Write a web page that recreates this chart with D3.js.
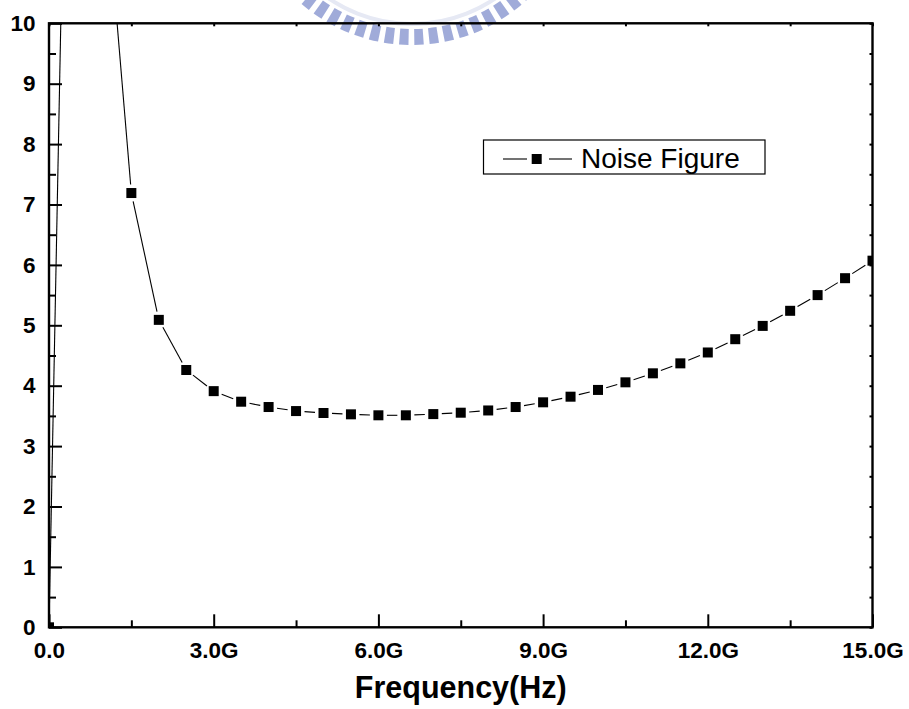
<!DOCTYPE html>
<html>
<head>
<meta charset="utf-8">
<script src="https://cdn.jsdelivr.net/npm/d3@7"></script>
<style>
  html, body { margin: 0; padding: 0; background: #fff; }
  svg { display: block; }
  text { font-family: "Liberation Sans", Arial, Helvetica, sans-serif; }
</style>
</head>
<body>
<svg id="chart" width="909" height="709"></svg>
<script>
// Frequency points (GHz) and measured noise figure (dB)
const freqGHz = [0, 0.5, 1.0, 1.5, 2.0, 2.5, 3.0, 3.5, 4.0, 4.5, 5.0, 5.5, 6.0, 6.5, 7.0, 7.5,
                 8.0, 8.5, 9.0, 9.5, 10.0, 10.5, 11.0, 11.5, 12.0, 12.5, 13.0, 13.5, 14.0, 14.5, 15.0];
const noiseFigure = [0.0, 23.3, 12.6, 7.19, 5.09, 4.26, 3.91, 3.735, 3.647, 3.58, 3.548, 3.526, 3.51, 3.51,
                     3.53, 3.553, 3.59, 3.647, 3.725, 3.818, 3.93, 4.056, 4.205, 4.37, 4.55, 4.77, 4.99,
                     5.24, 5.50, 5.78, 6.07];

const xMajorTicks = [0, 3, 6, 9, 12, 15];
const xTickLabels = ["0.0", "3.0G", "6.0G", "9.0G", "12.0G", "15.0G"];
const xMinorTicks = [1.5, 4.5, 7.5, 10.5, 13.5];
const yMajorTicks = [0, 1, 2, 3, 4, 5, 6, 7, 8, 9, 10];
const yMinorTicks = [0.5, 1.5, 2.5, 3.5, 4.5, 5.5, 6.5, 7.5, 8.5, 9.5];
const seriesName = "Noise Figure";
const xTitle = "Frequency(Hz)";

const svg = d3.select("#chart");
const plotL = 49, plotR = 872.5, plotT = 23.3, plotB = 627.3;

const x = d3.scaleLinear().domain([0, 15]).range([plotL, plotR]);
const y = d3.scaleLinear().domain([0, 10]).range([plotB, plotT]);

// faint seal emblem behind the top of the plot
const emblem = svg.append("g").attr("transform", "translate(412,-124)");
emblem.append("circle").attr("r", 148).attr("fill", "none")
  .attr("stroke", "#e6e9f4").attr("stroke-width", 4);
const toothAngles = d3.range(-44, 45, 5.2);
emblem.selectAll("path.tooth").data(toothAngles).join("path")
  .attr("class", "tooth")
  .attr("d", a => d3.arc()({innerRadius: 153, outerRadius: 169,
      startAngle: Math.PI + (a - 1.6) * Math.PI / 180, endAngle: Math.PI + (a + 1.6) * Math.PI / 180}))
  .attr("fill", "#8896d0").attr("opacity", 0.8);

svg.append("defs").append("clipPath").attr("id", "plotClip")
  .append("rect").attr("x", plotL).attr("y", plotT).attr("width", plotR - plotL).attr("height", plotB - plotT);

// axes: inward ticks, major with labels on left/bottom, small ticks on top/right
function styleAxis(g) {
  g.select(".domain").remove();
  g.selectAll(".tick line").attr("stroke", "#000").attr("stroke-width", 2);
}
const labelFont = g => g.selectAll("text")
  .attr("font-size", 22.5).attr("font-weight", "bold").attr("fill", "#000")
  .style("font-family", "'Liberation Sans', Arial, sans-serif");

svg.append("g").attr("transform", `translate(0,${plotB})`)
  .call(d3.axisBottom(x).tickValues(xMajorTicks).tickSize(-13).tickPadding(15)
    .tickFormat((d, i) => xTickLabels[i]))
  .call(styleAxis).call(labelFont);
svg.append("g").attr("transform", `translate(0,${plotB})`)
  .call(d3.axisBottom(x).tickValues(xMinorTicks).tickSize(-7).tickFormat(""))
  .call(styleAxis);
svg.append("g").attr("transform", `translate(${plotL},0)`)
  .call(d3.axisLeft(y).tickValues(yMajorTicks).tickSize(-13).tickPadding(13.5).tickFormat(d3.format("d")))
  .call(styleAxis).call(labelFont);
svg.append("g").attr("transform", `translate(${plotL},0)`)
  .call(d3.axisLeft(y).tickValues(yMinorTicks).tickSize(-7).tickFormat(""))
  .call(styleAxis);
svg.append("g").attr("transform", `translate(0,${plotT})`)
  .call(d3.axisTop(x).tickValues(xMajorTicks.concat(xMinorTicks)).tickSize(-3).tickFormat(""))
  .call(styleAxis);
svg.append("g").attr("transform", `translate(${plotR},0)`)
  .call(d3.axisRight(y).tickValues(yMajorTicks.concat(yMinorTicks)).tickSize(-3).tickFormat(""))
  .call(styleAxis);

// data line, drawn as segments that stop short of each symbol
const pts = freqGHz.map((f, i) => [x(f), y(noiseFigure[i])]);
const gap = 8.5;
const segs = d3.pairs(pts).map(([a, b]) => {
  const dx = b[0] - a[0], dy = b[1] - a[1], len = Math.hypot(dx, dy);
  const ux = dx / len, uy = dy / len;
  return [a[0] + ux * gap, a[1] + uy * gap, b[0] - ux * gap, b[1] - uy * gap];
});
const plot = svg.append("g").attr("clip-path", "url(#plotClip)");
plot.selectAll("line.seg").data(segs).join("line")
  .attr("class", "seg")
  .attr("x1", d => d[0]).attr("y1", d => d[1]).attr("x2", d => d[2]).attr("y2", d => d[3])
  .attr("stroke", "#000").attr("stroke-width", 1.1);
plot.selectAll("rect.sym").data(pts).join("rect")
  .attr("class", "sym")
  .attr("x", d => d[0] - 5).attr("y", d => d[1] - 5).attr("width", 10).attr("height", 10)
  .attr("fill", "#000");

// plot frame
svg.append("rect").attr("x", plotL).attr("y", plotT).attr("width", plotR - plotL).attr("height", plotB - plotT)
  .attr("fill", "none").attr("stroke", "#000").attr("stroke-width", 2.4);

// axis title
svg.append("text").attr("x", (plotL + plotR) / 2).attr("y", 697.5).attr("text-anchor", "middle")
  .attr("font-size", 30.5).attr("font-weight", "bold").text(xTitle);

// legend
const lg = svg.append("g");
lg.append("rect").attr("x", 483.5).attr("y", 140).attr("width", 281.5).attr("height", 34)
  .attr("fill", "#fff").attr("stroke", "#000").attr("stroke-width", 1.2);
lg.append("line").attr("x1", 503).attr("x2", 527).attr("y1", 159).attr("y2", 159).attr("stroke", "#000").attr("stroke-width", 1.1);
lg.append("line").attr("x1", 549).attr("x2", 572).attr("y1", 159).attr("y2", 159).attr("stroke", "#000").attr("stroke-width", 1.1);
lg.append("rect").attr("x", 531.7).attr("y", 154).attr("width", 10).attr("height", 10).attr("fill", "#000");
lg.append("text").attr("x", 581).attr("y", 167.5).attr("font-size", 28).text(seriesName);
</script>
</body>
</html>
